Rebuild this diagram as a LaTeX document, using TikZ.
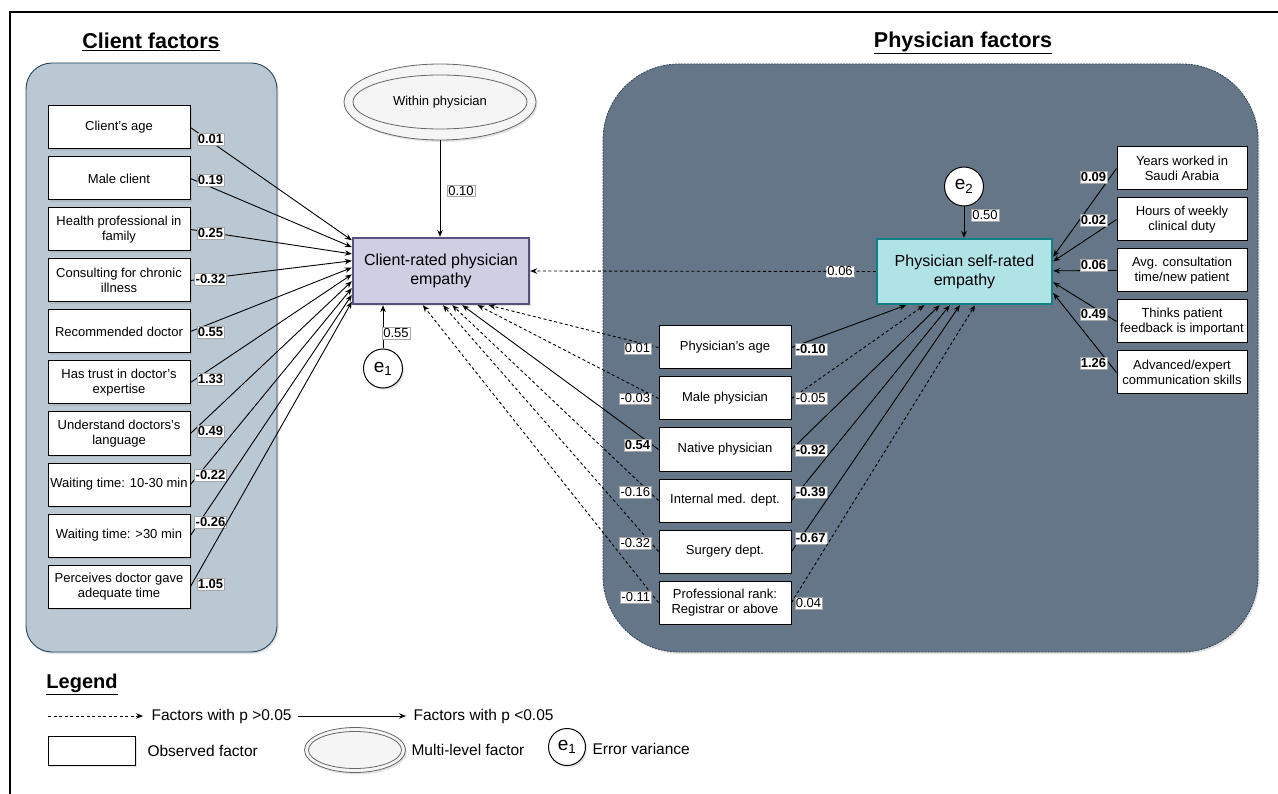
\documentclass[tikz,border=0pt]{standalone}
\usepackage{fontspec}
\setmainfont{Liberation Sans}
\usetikzlibrary{arrows.meta,positioning,calc,shapes.geometric,shadows}
\definecolor{clientfill}{HTML}{BAC8D3}
\definecolor{clientline}{HTML}{23445D}
\definecolor{physfill}{HTML}{647687}
\definecolor{physline}{HTML}{314354}
\definecolor{cratefill}{HTML}{D0CEE2}
\definecolor{crateline}{HTML}{56517E}
\definecolor{selffill}{HTML}{B0E3E6}
\definecolor{selfline}{HTML}{0E8088}
\definecolor{levelfill}{HTML}{F5F5F5}
\definecolor{levelline}{HTML}{666666}
\newcommand{\boxfont}{\fontsize{13}{14.6}\selectfont}
\newcommand{\outfont}{\fontsize{16}{19}\selectfont}
\newcommand{\legfont}{\fontsize{15.5}{18}\selectfont}
\newcommand{\headfont}{\fontsize{21.5}{24}\selectfont\bfseries}

\begin{document}
\begin{tikzpicture}[x=1pt, y=-1pt,
  soft/.style={drop shadow={opacity=0.22, shadow xshift=1.5pt, shadow yshift=-2pt}},
  factor/.style={draw, fill=white, line width=1pt, minimum width=142pt, minimum height=43pt, inner sep=1pt, align=center, font=\boxfont, soft},
  outcome/.style={draw, line width=2.3pt, minimum width=176pt, minimum height=66pt, align=center, font=\outfont, soft},
  errvar/.style={draw, fill=white, circle, line width=1pt, minimum size=39pt, inner sep=0pt, font=\fontsize{19}{20}\selectfont, soft},
  multilevel/.style={ellipse, draw=levelline, fill=levelfill, line width=0.8pt, inner sep=0pt},
  coef/.style={fill=white, draw=black!35, line width=0.3pt, inner sep=1.2pt, font=\boxfont},
  sig/.style={draw, line width=0.9pt, -{Stealth[length=7pt,width=5.5pt]}},
  nonsig/.style={sig, dash pattern=on 3pt off 2.5pt},
  heading/.style={font=\headfont}
]
\useasboundingbox (0,0) rectangle (1278,794);
\draw[line width=2pt] (9.5,794) -- (9.5,12.5) -- (1278,12.5);

% panels
\draw[clientline, fill=clientfill, line width=0.9pt, rounded corners=26pt, soft] (26,63) rectangle (277,652);
\draw[physline, fill=physfill, line width=0.8pt, dash pattern=on 2pt off 1pt, rounded corners=76pt, soft] (603,64) rectangle (1258,652);
\node[heading] (clienthead) at (151,42) {\underline{Client factors}};
\node[heading] (physhead) at (963,43) {\underline{Physician factors}};

% outcomes
\node[multilevel, soft, minimum width=192pt, minimum height=76pt] (within) at (440,102) {};
\node[multilevel, minimum width=174pt, minimum height=54pt, font=\boxfont] (withinin) at (within.center) {Within physician};
\node[outcome, draw=crateline, fill=cratefill] (crate) at (441,271) {Client-rated physician\\empathy};
\node[outcome, draw=selfline, fill=selffill, minimum width=175pt, minimum height=65pt] (self) at (964.5,271.5) {Physician self-rated\\empathy};
\node[errvar] (e1) at (383,368.5) {e\textsubscript{1}};
\node[errvar] (e2) at (964,186.5) {e\textsubscript{2}};

\draw[sig] (within.south) -- node[coef, anchor=west, pos=0.52, xshift=7pt] {0.10} (within.south |- crate.north);
\draw[sig] (e1) -- node[coef, anchor=west, pos=0.36, xshift=-1pt] {0.55} (e1 |- crate.south);
\draw[sig] (e2) -- node[coef, anchor=west, pos=0.27, xshift=7pt] {0.50} (e2 |- self.north);
\draw[nonsig] (self.west) -- node[coef, anchor=east, pos=0.063] {0.06} (crate.east);

% client factors
\foreach \i/\txt/\val/\dy in {
  1/{Client's age}/0.01/11.5,
  2/{Male client}/0.19/1.5,
  3/{Health professional in\\family}/0.25/3.5,
  4/{Consulting for chronic\\illness}/-0.32/-1.5,
  5/{Recommended doctor}/0.55/0.5,
  6/{Has trust in doctor's\\expertise}/1.33/-3.5,
  7/{Understand doctors's\\language}/0.49/-2.5,
  8/{Waiting time: 10-30 min}/-0.22/-9.5,
  9/{Waiting time: >30 min}/-0.26/-13.5,
  10/{Perceives doctor gave\\adequate time}/1.05/-2.5}
{
  \node[factor] (cf\i) at (119,{76.5+51*\i}) {\txt};
  \draw[sig] (cf\i.east) -- ($(crate.north west)!{(\i-0.5)/10}!(crate.south west)$);
  \node[coef, font=\boxfont\bfseries] at ($(cf\i.east)+(20,\dy)$) {\val};
}

% physician factors
\foreach \i/\txt in {1/{Physician's age}, 2/{Male physician}, 3/{Native physician},
  4/{Internal med. dept.}, 5/{Surgery dept.}, 6/{Professional rank:\\Registrar or above}}
  \node[factor, minimum width=132pt] (pf\i) at (725,{296.5+51*\i}) {\txt};

\foreach \i/\st/\wt/\val/\dy/\where in {1/nonsig/\mdseries/0.01/1/0.767, 2/nonsig/\mdseries/-0.03/0/0.705,
  3/sig/\bfseries/0.54/-4.5/0.619, 4/nonsig/\mdseries/-0.16/-8.5/0.563,
  5/nonsig/\mdseries/-0.32/-8.5/0.511, 6/nonsig/\mdseries/-0.11/-5.5/0.398}
{
  \draw[\st] (pf\i.west) -- ($(crate.south west)!\where!(crate.south east)$);
  \node[coef, font=\boxfont\wt, anchor=east] at ($(pf\i.west)+(-7,\dy)$) {\val};
}

\foreach \i/\st/\wt/\val/\dy/\where in {1/sig/\bfseries/-0.10/1.5/0.171, 2/nonsig/\mdseries/-0.05/-0.5/0.274,
  3/sig/\bfseries/-0.92/0.5/0.36, 4/sig/\bfseries/-0.39/-8.5/0.417,
  5/sig/\bfseries/-0.67/-13.5/0.474, 6/nonsig/\mdseries/0.04/0.5/0.56}
{
  \draw[\st] (pf\i.east) -- ($(self.south west)!\where!(self.south east)$);
  \node[coef, font=\boxfont\wt, anchor=west] at ($(pf\i.east)+(3,\dy)$) {\val};
}

\foreach \i/\txt/\val/\dy/\where in {
  1/{Years worked in\\Saudi Arabia}/0.09/8.5/0.28,
  2/{Hours of weekly\\clinical duty}/0.02/0.5/0.35,
  3/{Avg. consultation\\time/new patient}/0.06/-5.5/0.49,
  4/{Thinks patient\\feedback is important}/0.49/-7.5/0.66,
  5/{Advanced/expert\\communication skills}/1.26/-9.5/0.82}
{
  \node[factor, minimum width=130pt] (rf\i) at (1182,{117.5+51*\i}) {\txt};
  \draw[sig] (rf\i.west) -- ($(self.north east)!\where!(self.south east)$);
  \node[coef, font=\boxfont\bfseries, anchor=east] at ($(rf\i.west)+(-9,\dy)$) {\val};
}

% legend
\node[font=\fontsize{20}{22}\selectfont\bfseries] (leghead) at (82,684) {\underline{Legend}};
\coordinate (ns0) at (48,716);
\coordinate (ns1) at (143,716);
\draw[nonsig] (ns0) -- (ns1);
\node[anchor=west, font=\legfont] (nstext) at (148,716) {Factors with p >0.05};
\coordinate (s0) at (298,716);
\coordinate (s1) at (406,716);
\draw[sig] (s0) -- (s1);
\node[anchor=west, font=\legfont] (stext) at (410,716) {Factors with p <0.05};
\node[draw, line width=1pt, minimum width=87pt, minimum height=29pt, soft, fill=white] (legobs) at (91.5,750.5) {};
\node[anchor=west, font=\legfont] (obstext) at (144,750.5) {Observed factor};
\node[multilevel, soft, minimum width=101pt, minimum height=45pt] (legml) at (355,750) {};
\node[multilevel, minimum width=93pt, minimum height=37pt] (legmlin) at (legml.center) {};
\node[anchor=west, font=\legfont] (mltext) at (408,750) {Multi-level factor};
\node[errvar, minimum size=37pt] (legerr) at (567,747) {e\textsubscript{1}};
\node[anchor=west, font=\legfont] (errtext) at (589,749) {Error variance};
\end{tikzpicture}
\end{document}
